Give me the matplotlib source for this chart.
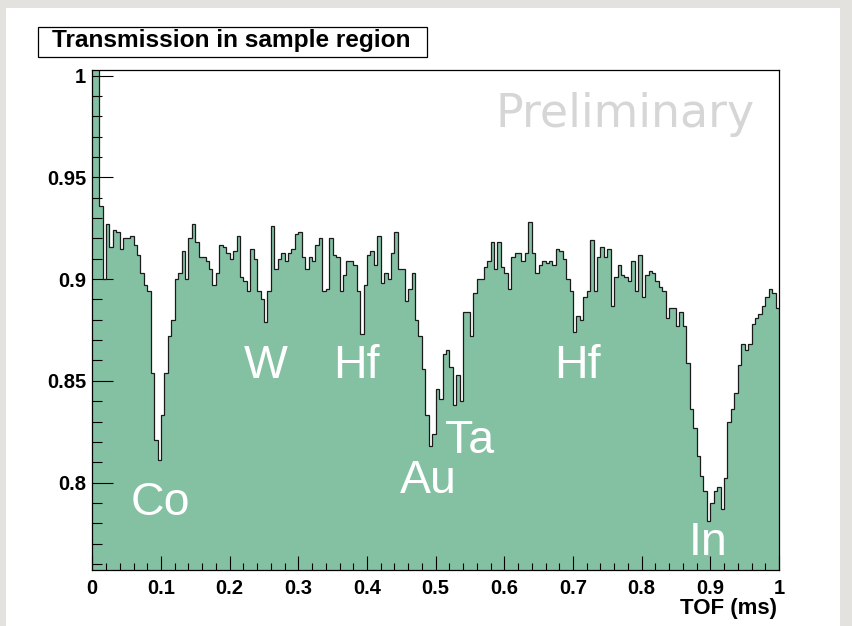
import numpy as np
import matplotlib
matplotlib.use('Agg')
import matplotlib.pyplot as plt
from matplotlib.patches import Rectangle
from matplotlib.font_manager import FontProperties
from matplotlib.ticker import MultipleLocator, FixedLocator

# transmission per TOF bin (200 bins of 5 us), split by region
t_co = [1.01, 1.01, 0.936, 0.900, 0.927, 0.916, 0.924, 0.923, 0.915, 0.920,
        0.920, 0.921, 0.917, 0.912, 0.903, 0.897, 0.894, 0.854, 0.821, 0.811,
        0.833, 0.854, 0.872, 0.880, 0.900, 0.903, 0.914, 0.900, 0.920, 0.927,
        0.918, 0.911, 0.911, 0.909, 0.905, 0.897, 0.903, 0.917, 0.916, 0.913,
        0.910, 0.914, 0.921, 0.901, 0.899, 0.894, 0.915, 0.910, 0.894, 0.890]
t_w_hf = [0.879, 0.894, 0.926, 0.905, 0.910, 0.913, 0.909, 0.913, 0.915, 0.922,
          0.923, 0.911, 0.905, 0.911, 0.909, 0.917, 0.920, 0.894, 0.895, 0.920,
          0.912, 0.911, 0.894, 0.902, 0.909, 0.909, 0.907, 0.894, 0.873, 0.897,
          0.912, 0.914, 0.907, 0.921, 0.898, 0.903, 0.900, 0.913, 0.923, 0.905,
          0.905, 0.889, 0.895, 0.903, 0.880, 0.872, 0.856, 0.833, 0.818, 0.824]
t_au_ta = [0.846, 0.841, 0.863, 0.865, 0.857, 0.838, 0.853, 0.840, 0.884, 0.884,
           0.872, 0.893, 0.900, 0.900, 0.906, 0.909, 0.918, 0.905, 0.918, 0.906,
           0.903, 0.895, 0.911, 0.913, 0.913, 0.909, 0.913, 0.928, 0.913, 0.903,
           0.907, 0.909, 0.908, 0.909, 0.907, 0.915, 0.914, 0.910, 0.900, 0.894,
           0.874, 0.882, 0.880, 0.891, 0.894, 0.919, 0.894, 0.911, 0.916, 0.911]
t_in = [0.915, 0.887, 0.901, 0.907, 0.902, 0.901, 0.899, 0.909, 0.894, 0.912,
        0.891, 0.902, 0.904, 0.903, 0.899, 0.896, 0.894, 0.881, 0.886, 0.886,
        0.877, 0.884, 0.877, 0.859, 0.836, 0.827, 0.813, 0.803, 0.796, 0.781,
        0.790, 0.796, 0.798, 0.787, 0.802, 0.830, 0.836, 0.844, 0.858, 0.868,
        0.865, 0.868, 0.878, 0.881, 0.883, 0.887, 0.891, 0.895, 0.893, 0.886]
transmission = np.array(t_co + t_w_hf + t_au_ta + t_in)
edges = np.linspace(0.0, 1.0, len(transmission) + 1)

# resonance labels: (text, tof, transmission)
elements = ['Co', 'W', 'Hf', 'Au', 'Ta', 'Hf', 'In']
elem_x = [0.0986, 0.252, 0.3842, 0.490, 0.550, 0.706, 0.897]
elem_y = [0.784, 0.8514, 0.8514, 0.7948, 0.8145, 0.8514, 0.7644]

xtick_labels = ['0', '0.1', '0.2', '0.3', '0.4', '0.5', '0.6', '0.7', '0.8', '0.9', '1']
ytick_vals = [0.8, 0.85, 0.9, 0.95, 1.0]
ytick_labels = ['0.8', '0.85', '0.9', '0.95', '1']

W, H = 852, 626
fig = plt.figure(figsize=(W / 100, H / 100), dpi=100, facecolor='#e4e2de')
# white canvas
fig.patches.append(Rectangle((6 / W, 0), (840 - 6) / W, (H - 8) / H,
                             transform=fig.transFigure, facecolor='white',
                             edgecolor='none', zorder=-5))

ax = fig.add_axes([92.3 / W, (H - 570) / H, 686.7 / W, 500 / H], zorder=2)
ax.set_facecolor('white')
ax.stairs(transmission, edges, baseline=0.0, fill=True,
          color='#84c1a3', zorder=1)
ax.stairs(transmission, edges, baseline=None, color='#1a1a1a',
          linewidth=0.9, zorder=2)

ax.set_xlim(0, 1)
ax.set_ylim(0.757, 1.0028)
for s in ax.spines.values():
    s.set_linewidth(0.9)
    s.set_zorder(4)

ax.xaxis.set_major_locator(FixedLocator(np.linspace(0, 1, 11)))
ax.xaxis.set_minor_locator(MultipleLocator(0.02))
ax.yaxis.set_major_locator(FixedLocator(ytick_vals))
ax.yaxis.set_minor_locator(MultipleLocator(0.01))
ax.set_xticklabels(xtick_labels)
ax.set_yticklabels(ytick_labels)

tick_font = FontProperties(family='Liberation Sans', weight='bold', size=14.5)
ax.tick_params(axis='both', which='both', direction='in', width=0.8,
               top=False, right=False, color='black')
ax.tick_params(axis='x', which='major', length=10, pad=6.5)
ax.tick_params(axis='x', which='minor', length=5)
ax.tick_params(axis='y', which='major', length=15, pad=4.5)
ax.tick_params(axis='y', which='minor', length=7.5)
for lab in ax.get_xticklabels() + ax.get_yticklabels():
    lab.set_fontproperties(tick_font)

for name, x, y in zip(elements, elem_x, elem_y):
    ax.text(x, y, name, color='white', fontsize=33.5, family='Liberation Sans',
            ha='center', va='baseline', zorder=3)

ax.text(0.7757, 0.9749, 'Preliminary', color='#d6d6d6', fontsize=33,
        family='DejaVu Sans', ha='center', va='baseline', zorder=3)

# title box
fig.patches.append(Rectangle((38.3 / W, (H - 57.3) / H), (427 - 38.3) / W,
                             30.6 / H, transform=fig.transFigure,
                             facecolor='white', edgecolor='black',
                             linewidth=0.9, zorder=1))
fig.text(231 / W, (H - 47.3) / H, 'Transmission in sample region',
         family='Liberation Sans', weight='bold', fontsize=17.6,
         ha='center', va='baseline')

fig.text(777 / W, (H - 614) / H, 'TOF (ms)', family='Liberation Sans',
         weight='bold', fontsize=16, ha='right', va='baseline')

fig.savefig('out.png', dpi=100, facecolor=fig.get_facecolor())
